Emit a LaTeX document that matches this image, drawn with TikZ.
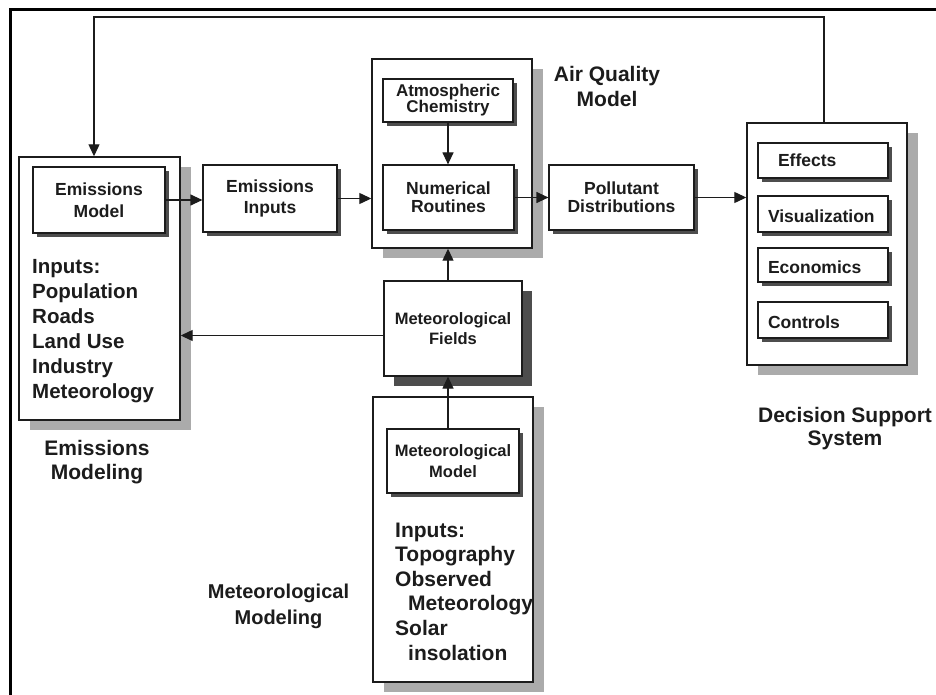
\documentclass[tikz,border=0pt]{standalone}
\usepackage{fontspec}
\setmainfont{Liberation Sans}
\usetikzlibrary{arrows.meta,shadows}
\definecolor{shlight}{HTML}{ABABAB}
\definecolor{shdark}{HTML}{4D4D4D}
\definecolor{ink}{HTML}{1C1C1C}
\begin{document}
\begin{tikzpicture}[x=1pt,y=-1pt,
  outerbox/.style={draw=ink, line width=1.4pt, fill=white,
    drop shadow={shadow xshift=11pt, shadow yshift=-10pt, fill=shlight, opacity=1}},
  boxbase/.style={draw=ink, line width=1.2pt, fill=white, align=center, text=ink,
    font=\fontsize{17.5}{19}\selectfont\bfseries, inner sep=2pt},
  smallshadow/.style={drop shadow={shadow xshift=4pt, shadow yshift=-4pt, fill=shdark, opacity=1}},
  bigshadow/.style={drop shadow={shadow xshift=10pt, shadow yshift=-10pt, fill=shdark, opacity=1}},
  innerbox/.style={boxbase, smallshadow},
  dssbox/.style={innerbox, minimum width=130pt, text width=110pt, align=left, text height=16pt, text depth=0pt},
  inputs/.style={align=left, inner sep=0pt, text=ink},
  lbl/.style={align=center, inner sep=0pt, text=ink},
  arr/.style={draw=ink, line width=1.2pt, -{Triangle[length=12pt,width=11pt]}},
  frame/.style={draw=black, line width=3pt}]
\useasboundingbox (0,0) rectangle (936,695);
\fill[white] (0,0) rectangle (936,695);
\draw[frame] (10,695) -- (10,10) -- (936,10);

% outer section boxes
\node[outerbox, minimum width=161pt, minimum height=263pt] (emo) at (99.5,288.5) {};
\node[outerbox, minimum width=160pt, minimum height=189pt] (aqo) at (452,153.5) {};
\node[outerbox, minimum width=160pt, minimum height=242pt] (dso) at (827,244) {};
\node[outerbox, minimum width=160pt, minimum height=285pt] (mmo) at (453,539.5) {};

% inner boxes
\node[innerbox, minimum width=132pt, minimum height=66pt, font=\fontsize{17.5}{22}\selectfont\bfseries] (emm) at (99,200) {Emissions\\Model};
\node[innerbox, minimum width=134pt, minimum height=67pt, font=\fontsize{17.5}{21}\selectfont\bfseries] (ein) at (270,198.5) {Emissions\\Inputs};
\node[innerbox, minimum width=130pt, minimum height=43pt, font=\fontsize{17}{16}\selectfont\bfseries] (atc) at (448,100.5) {Atmospheric\\Chemistry};
\node[innerbox, minimum width=131pt, minimum height=65pt, font=\fontsize{17.5}{18}\selectfont\bfseries] (nur) at (448.5,197.5) {Numerical\\Routines};
\node[innerbox, minimum width=145pt, minimum height=65pt, font=\fontsize{17.5}{18}\selectfont\bfseries] (pod) at (621.5,197.5) {Pollutant\\Distributions};
\node[boxbase, bigshadow, minimum width=138pt, minimum height=95pt, font=\fontsize{16.5}{20}\selectfont\bfseries] (mef) at (453,328.5) {Meteorological\\Fields};
\node[innerbox, minimum width=132pt, minimum height=64pt, font=\fontsize{16.5}{21}\selectfont\bfseries] (mem) at (453,461) {Meteorological\\Model};

\node[dssbox, minimum height=35pt, text height=13pt] (eff) at (823,160.5) {\hspace*{10pt}Effects};
\node[dssbox, minimum height=36pt] (vis) at (823,214) {Visualization};
\node[dssbox, minimum height=34pt] (eco) at (823,265) {Economics};
\node[dssbox, minimum height=36pt] (con) at (823,320) {Controls};

% input lists (base anchor = last line)
\node[inputs, anchor=base west, font=\fontsize{20.5}{25}\selectfont\bfseries] (einp) at (32,398)
  {Inputs:\\Population\\Roads\\Land Use\\Industry\\Meteorology};
\node[inputs, anchor=base west, font=\fontsize{21}{24.6}\selectfont\bfseries] (minp) at (395,660)
  {Inputs:\\Topography\\Observed\\\hspace*{13pt}Meteorology\\Solar\\\hspace*{13pt}insolation};

% section labels (base anchor = last line)
\node[lbl, anchor=base, font=\fontsize{21}{24}\selectfont\bfseries] (eml) at (97,479) {Emissions\\Modeling};
\node[lbl, anchor=base, font=\fontsize{21}{25}\selectfont\bfseries] (aql) at (607,107) {Air Quality\\Model};
\node[lbl, anchor=base, font=\fontsize{21}{23}\selectfont\bfseries] (dsl) at (845,445) {Decision Support\\System};
\node[lbl, anchor=base, font=\fontsize{20}{26}\selectfont\bfseries] (mml) at (278.5,624) {Meteorological\\Modeling};

% connectors
\coordinate (lpL) at (94,17);
\coordinate (lpR) at (824,17);
\draw[arr] (lpR |- dso.north) -- (lpR) -- (lpL) -- (lpL |- emo.north);
\draw[arr] (emm.east) -- (emm.east -| ein.west);
\draw[arr] (ein.east) -- (ein.east -| aqo.west);
\draw[arr] (atc.south) -- (atc.south |- nur.north);
\draw[arr] (nur.east) -- (nur.east -| pod.west);
\draw[arr] (pod.east) -- (pod.east -| dso.west);
\draw[arr] (mef.north -| atc.south) -- (atc.south |- aqo.south);
\draw[arr] ([yshift=-7pt]mef.west) -- ([yshift=-7pt]mef.west -| emo.east);
\draw[arr] (mem.north -| atc.south) -- (atc.south |- mef.south);
\end{tikzpicture}
\end{document}
